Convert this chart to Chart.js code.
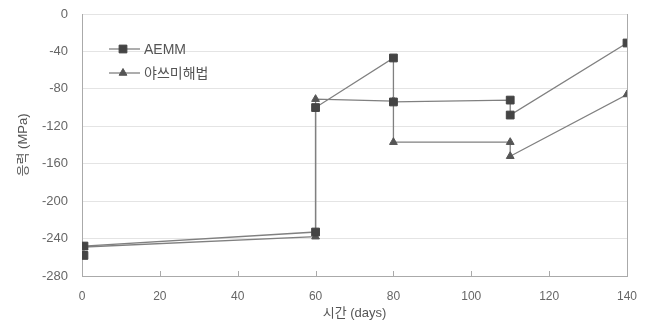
<!DOCTYPE html>
<html>
<head>
<meta charset="utf-8">
<script src="https://cdn.jsdelivr.net/npm/chart.js@4"></script>
<style>
html,body{margin:0;padding:0;background:#fff;}
#wrap{width:651px;height:323px;position:relative;}
</style>
</head>
<body>
<div id="wrap"><canvas id="c" width="651" height="323"></canvas></div>
<script>
// Data
const seriesNames = ['AEMM', '야쓰미해법'];
const aemmDays   = [0.5, 0.5, 60, 60, 80, 80, 110, 110, 140];
const aemmStress = [-258, -248, -233, -100, -47, -94, -92, -108, -31];
const yasDays    = [0.5, 60, 60, 80, 80, 110, 110, 140];
const yasStress  = [-249, -238, -91, -93, -137, -137, -152, -86];
const xTicks = [0, 20, 40, 60, 80, 100, 120, 140];
const yTicks = [0, -40, -80, -120, -160, -200, -240, -280];
const xTitle = '시간 (days)';
const yTitle = '응력 (MPa)';

const FONT = "'Liberation Sans', 'Noto Sans CJK KR', sans-serif";
const toPts = (xs, ys) => xs.map((x, i) => ({x: x, y: ys[i]}));

const legendPlugin = {
  id: 'insideLegend',
  afterDatasetsDraw(chart) {
    const ctx = chart.ctx;
    const items = chart.data.datasets;
    ctx.save();
    items.forEach((ds, i) => {
      const y = 49 + i * 24;
      ctx.strokeStyle = ds.borderColor;
      ctx.lineWidth = ds.borderWidth;
      ctx.beginPath(); ctx.moveTo(109, y); ctx.lineTo(140, y); ctx.stroke();
      ctx.fillStyle = ds.pointBackgroundColor;
      ctx.strokeStyle = ds.pointBorderColor;
      ctx.lineWidth = 1;
      Chart.helpers.drawPoint(ctx, {pointStyle: ds.pointStyle, radius: ds.pointRadius, borderWidth: 1}, 123, y);
      ctx.fillStyle = '#555';
      ctx.font = '14px ' + FONT;
      ctx.textBaseline = 'middle';
      ctx.textAlign = 'left';
      ctx.fillText(ds.label, 144, y + 1);
    });
    ctx.restore();
  }
};

const framePlugin = {
  id: 'frame',
  beforeDatasetsDraw(chart) {
    const {ctx, chartArea: a, scales: {x}} = chart;
    ctx.save();
    ctx.strokeStyle = '#aaa';
    ctx.lineWidth = 1;
    // right border
    ctx.beginPath(); ctx.moveTo(Math.round(a.right) + 0.5, a.top); ctx.lineTo(Math.round(a.right) + 0.5, a.bottom); ctx.stroke();
    // inside tick marks on the x axis
    xTicks.forEach(v => {
      const px = Math.round(x.getPixelForValue(v)) + 0.5;
      ctx.beginPath(); ctx.moveTo(px, a.bottom); ctx.lineTo(px, a.bottom - 5); ctx.stroke();
    });
    ctx.restore();
  }
};

new Chart(document.getElementById('c'), {
  type: 'scatter',
  data: {
    datasets: [
      {
        label: seriesNames[0],
        data: toPts(aemmDays, aemmStress),
        showLine: true,
        borderColor: '#808080',
        borderWidth: 1.3,
        pointStyle: 'rect',
        pointRadius: 5.5,
        pointBackgroundColor: '#444',
        pointBorderColor: '#444',
        pointBorderWidth: 1
      },
      {
        label: seriesNames[1],
        data: toPts(yasDays, yasStress),
        showLine: true,
        borderColor: '#808080',
        borderWidth: 1.3,
        pointStyle: 'triangle',
        pointRadius: 4.5,
        pointBackgroundColor: '#555',
        pointBorderColor: '#555',
        pointBorderWidth: 1
      }
    ]
  },
  options: {
    responsive: false,
    animation: false,
    devicePixelRatio: 1,
    layout: {padding: {left: 0, right: 24, top: 14, bottom: 0}},
    plugins: {legend: {display: false}, tooltip: {enabled: false}},
    scales: {
      x: {
        type: 'linear', min: 0, max: 140,
        afterBuildTicks: s => { s.ticks = xTicks.map(v => ({value: v})); },
        afterFit: s => { s.height = 47; },
        grid: {display: true, drawOnChartArea: false, drawTicks: false},
        border: {display: true, color: '#aaa', width: 1},
        ticks: {color: '#666', font: {family: FONT, size: 12}, padding: 13, maxRotation: 0},
        title: {display: true, text: xTitle, color: '#555', font: {family: FONT, size: 13}, padding: {top: 0, bottom: 2}}
      },
      y: {
        type: 'linear', min: -280, max: 0,
        afterBuildTicks: s => { s.ticks = yTicks.map(v => ({value: v})); },
        afterFit: s => { s.width = 82; s.paddingTop = 0; s.paddingBottom = 0; },
        grid: {color: '#e4e4e4', lineWidth: 1, drawTicks: false},
        border: {display: true, color: '#aaa', width: 1},
        ticks: {color: '#666', font: {family: FONT, size: 13}, padding: 14},
        title: {display: true, text: yTitle, color: '#555', font: {family: FONT, size: 13}, padding: {top: 16, bottom: 0}}
      }
    }
  },
  plugins: [framePlugin, legendPlugin]
});
</script>
</body>
</html>
